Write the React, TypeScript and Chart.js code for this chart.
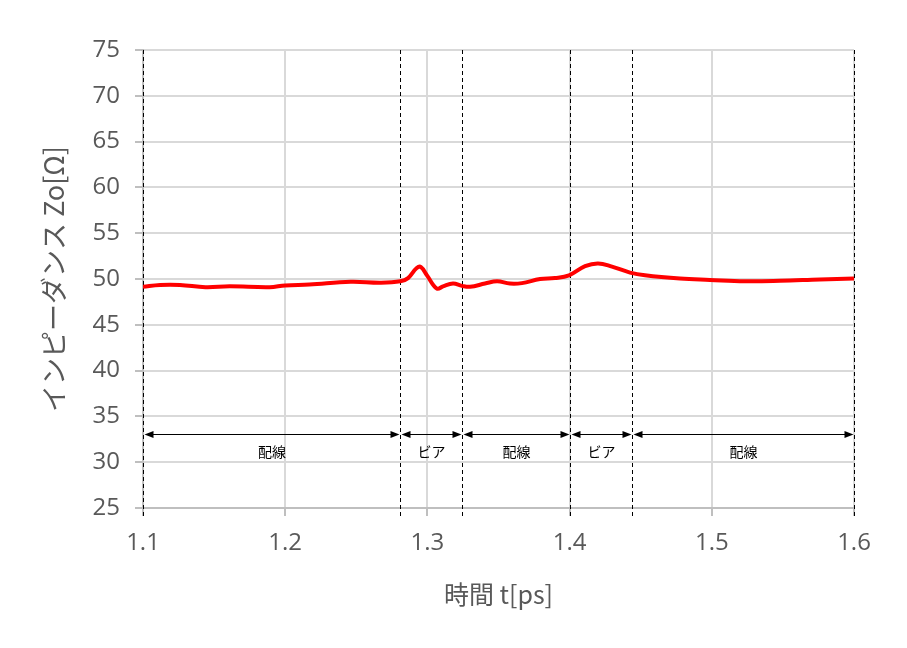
import { useEffect, useRef } from 'react';
import { Chart, registerables } from 'chart.js';

Chart.register(...registerables);

// ---- data ----
const timePs = [
  1.1, 1.112, 1.126, 1.144, 1.161, 1.189, 1.2, 1.217, 1.246, 1.267, 1.281,
  1.2864, 1.2925, 1.2955, 1.2997, 1.3067, 1.311, 1.318, 1.3243, 1.33, 1.3405,
  1.349, 1.358, 1.3665, 1.3792, 1.3897, 1.3996, 1.4109, 1.42, 1.4298, 1.4425,
  1.453, 1.4776, 1.4987, 1.5233, 1.548, 1.576, 1.6,
];
const impedance = [
  49.15, 49.35, 49.35, 49.1, 49.2, 49.1, 49.3, 49.4, 49.7, 49.6, 49.75,
  50.1, 51.2, 51.3, 50.4, 48.95, 49.2, 49.5, 49.25, 49.15, 49.5,
  49.75, 49.5, 49.55, 50.0, 50.1, 50.4, 51.4, 51.7, 51.35, 50.7,
  50.4, 50.05, 49.9, 49.75, 49.8, 49.95, 50.05,
];
const xTicks = [1.1, 1.2, 1.3, 1.4, 1.5, 1.6];
const yTicks = [25, 30, 35, 40, 45, 50, 55, 60, 65, 70, 75];
const boundaries = [1.1, 1.281, 1.3243, 1.4, 1.4439, 1.6];
const segmentLabels = ['配線', 'ビア', '配線', 'ビア', '配線'];
const arrowLevel = 33.1;
const labelLevel = 31.2;

const xTitle = '時間 t[ps]';
const yTitle = 'インピーダンス Zo[Ω]';

const sectionPlugin = {
  id: 'sections',
  beforeDatasetsDraw(chart: any) {
    const { ctx, chartArea, scales } = chart;
    const x = scales.x;
    const y = scales.y;
    ctx.save();
    ctx.strokeStyle = '#000';
    ctx.fillStyle = '#000';
    ctx.lineWidth = 1;
    ctx.setLineDash([4, 3]);
    const pxs = boundaries.map((b) => Math.round(x.getPixelForValue(b)) + 0.5);
    pxs.forEach((px) => {
      ctx.beginPath();
      ctx.moveTo(px, chartArea.top);
      ctx.lineTo(px, chartArea.bottom + 9);
      ctx.stroke();
    });
    ctx.setLineDash([]);
    const ay = Math.round(y.getPixelForValue(arrowLevel)) + 0.5;
    const ly = y.getPixelForValue(labelLevel);
    const headL = 9;
    const headH = 3.5;
    ctx.font = "14px 'Noto Sans CJK JP', sans-serif";
    ctx.textAlign = 'center';
    ctx.textBaseline = 'middle';
    for (let i = 0; i < segmentLabels.length; i++) {
      const x1 = pxs[i] + 1;
      const x2 = pxs[i + 1] - 1;
      ctx.beginPath();
      ctx.moveTo(x1 + headL - 1, ay);
      ctx.lineTo(x2 - headL + 1, ay);
      ctx.stroke();
      ctx.beginPath();
      ctx.moveTo(x1, ay);
      ctx.lineTo(x1 + headL, ay - headH);
      ctx.lineTo(x1 + headL, ay + headH);
      ctx.closePath();
      ctx.fill();
      ctx.beginPath();
      ctx.moveTo(x2, ay);
      ctx.lineTo(x2 - headL, ay - headH);
      ctx.lineTo(x2 - headL, ay + headH);
      ctx.closePath();
      ctx.fill();
      ctx.fillText(segmentLabels[i], (x1 + x2) / 2, ly);
    }
    ctx.restore();
  },
};

export default function App() {
  const ref = useRef<HTMLCanvasElement>(null);
  useEffect(() => {
    if (!ref.current) return;
    const tickFont = { family: "'Open Sans', 'Noto Sans CJK JP', sans-serif", size: 24 };
    const chart = new Chart(ref.current, {
      type: 'line',
      data: {
        datasets: [
          {
            data: timePs.map((t, i) => ({ x: t, y: impedance[i] })),
            borderColor: '#ff0000',
            borderWidth: 4,
            pointRadius: 0,
            fill: false,
            tension: 0.4,
          },
        ],
      },
      options: {
        responsive: false,
        animation: false,
        devicePixelRatio: 1,
        layout: { padding: { top: 50, right: 53, bottom: 0, left: 0 } },
        plugins: { legend: { display: false }, tooltip: { enabled: false } },
        scales: {
          x: {
            type: 'linear',
            min: 1.1,
            max: 1.6,
            afterBuildTicks: (s: any) => {
              s.ticks = xTicks.map((v) => ({ value: v }));
            },
            afterFit: (s: any) => {
              s.height = 140;
            },
            ticks: {
              color: '#595959',
              font: tickFont,
              padding: 13,
              maxRotation: 0,
              callback: (v: any) => Number(v).toFixed(1),
            },
            grid: { color: '#d9d9d9', lineWidth: 2, tickLength: 8, tickColor: '#bfbfbf' },
            border: { color: '#bfbfbf', width: 2 },
            title: {
              display: true,
              text: xTitle,
              color: '#595959',
              font: { family: "'Noto Sans CJK JP', sans-serif", size: 25 },
              padding: { top: 0, bottom: 39 },
            },
          },
          y: {
            type: 'linear',
            min: 25,
            max: 75,
            afterBuildTicks: (s: any) => {
              s.ticks = yTicks.map((v) => ({ value: v }));
            },
            afterFit: (s: any) => {
              s.width = 143;
            },
            ticks: { color: '#595959', font: tickFont, padding: 15 },
            grid: { color: '#d9d9d9', lineWidth: 2, tickLength: 8, tickColor: '#bfbfbf' },
            border: { color: '#bfbfbf', width: 2 },
            title: {
              display: true,
              text: yTitle,
              color: '#595959',
              font: { family: "'Noto Sans CJK JP', sans-serif", size: 27 },
              padding: { top: 38, bottom: 0 },
            },
          },
        },
      },
      plugins: [sectionPlugin],
    } as any);
    return () => chart.destroy();
  }, []);
  return (
    <div style={{ position: 'fixed', left: 0, top: 0, width: 907, height: 648, background: '#fff' }}>
      <canvas ref={ref} width={907} height={648} />
    </div>
  );
}
